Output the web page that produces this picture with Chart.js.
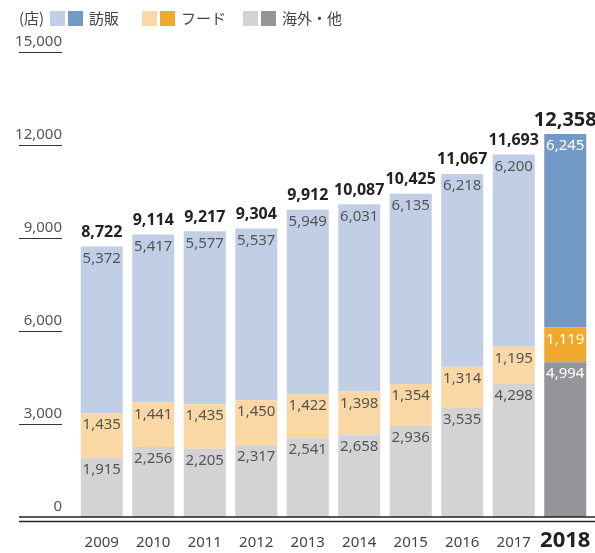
<!DOCTYPE html>
<html>
<head>
<meta charset="utf-8">
<script src="https://cdn.jsdelivr.net/npm/chart.js@4"></script>
<style>
  body { margin: 0; background: #fff; }
  #wrap { width: 595px; height: 553px; }
</style>
</head>
<body>
<div id="wrap"><canvas id="myChart" width="595" height="553"></canvas></div>
<script>
const years = ['2009', '2010', '2011', '2012', '2013', '2014', '2015', '2016', '2017', '2018'];
const houhan = [5372, 5417, 5577, 5537, 5949, 6031, 6135, 6218, 6200, 6245];
const food = [1435, 1441, 1435, 1450, 1422, 1398, 1354, 1314, 1195, 1119];
const overseas = [1915, 2256, 2205, 2317, 2541, 2658, 2936, 3535, 4298, 4994];
const totals = [8722, 9114, 9217, 9304, 9912, 10087, 10425, 11067, 11693, 12358];
const yTicks = [0, 3000, 6000, 9000, 12000, 15000];

const FONT = '"Noto Sans", "Noto Sans CJK JP", sans-serif';
const JP = '"Noto Sans CJK JP", "Noto Sans", sans-serif';
const last = years.length - 1;

function colors(light, dark) {
  return years.map((y, i) => i === last ? dark : light);
}
function fmt(v) { return v.toLocaleString('en-US'); }

const extras = {
  id: 'extras',
  afterDatasetsDraw(chart) {
    const c = chart.ctx;
    const y = chart.scales.y;
    const x = chart.scales.x;
    c.save();
    // segment labels
    c.textAlign = 'center';
    c.textBaseline = 'middle';
    c.font = '15px ' + FONT;
    chart.data.datasets.forEach((ds, di) => {
      chart.getDatasetMeta(di).data.forEach((bar, i) => {
        c.fillStyle = i === last ? '#fff' : '#555';
        c.fillText(fmt(ds.data[i]), bar.x, bar.y + 12);
      });
    });
    // totals
    const top = chart.getDatasetMeta(2).data;
    top.forEach((bar, i) => {
      c.fillStyle = '#222';
      c.font = (i === last ? 'bold 20px ' : 'bold 16px ') + FONT;
      c.fillText(fmt(totals[i]), bar.x, bar.y - 14);
    });
    // year labels
    c.textBaseline = 'alphabetic';
    years.forEach((yr, i) => {
      c.fillStyle = i === last ? '#222' : '#444';
      c.font = (i === last ? 'bold 22px ' : '15px ') + FONT;
      c.fillText(yr, x.getPixelForValue(i), 547);
    });
    // y tick underlines
    c.strokeStyle = '#333';
    c.lineWidth = 1;
    yTicks.forEach(t => {
      if (t === 0) return;
      const py = Math.round(y.getPixelForValue(t)) + 0.5;
      c.beginPath();
      c.moveTo(19, py);
      c.lineTo(62, py);
      c.stroke();
    });
    // double baseline
    const by = y.getPixelForValue(0);
    c.lineWidth = 1.5;
    c.strokeStyle = '#222';
    [by, by + 4.5].forEach(ly => {
      c.beginPath();
      c.moveTo(19, ly);
      c.lineTo(595, ly);
      c.stroke();
    });
    // legend
    c.textAlign = 'left';
    c.textBaseline = 'middle';
    c.font = '15px ' + JP;
    c.fillStyle = '#444';
    c.fillText('(店)', 19, 18);
    const items = [
      { x: 50, light: '#c0cfe6', dark: '#7399c6', text: '訪販' },
      { x: 142, light: '#f9d8a5', dark: '#f0a92d', text: 'フード' },
      { x: 243, light: '#d3d3d5', dark: '#939598', text: '海外・他' }
    ];
    items.forEach(it => {
      c.fillStyle = it.light;
      c.fillRect(it.x, 11, 15, 15);
      c.fillStyle = it.dark;
      c.fillRect(it.x + 18, 11, 15, 15);
      c.fillStyle = '#444';
      c.fillText(it.text, it.x + 39, 18);
    });
    c.restore();
  }
};

new Chart(document.getElementById('myChart'), {
  type: 'bar',
  data: {
    labels: years,
    datasets: [
      { label: '海外・他', data: overseas, backgroundColor: colors('#d3d3d5', '#939598') },
      { label: 'フード', data: food, backgroundColor: colors('#f9d8a5', '#f0a92d') },
      { label: '訪販', data: houhan, backgroundColor: colors('#c0cfe6', '#7399c6') }
    ]
  },
  options: {
    responsive: false,
    animation: false,
    layout: { padding: { top: 52, right: 4, left: 0, bottom: 0 } },
    datasets: { bar: { categoryPercentage: 1, barPercentage: 0.816 } },
    plugins: { legend: { display: false }, tooltip: { enabled: false } },
    scales: {
      x: {
        stacked: true,
        grid: { display: false, drawTicks: false },
        border: { display: false },
        ticks: { display: false },
        afterFit(s) { s.height = 36; }
      },
      y: {
        stacked: true,
        min: 0,
        max: 15000,
        afterBuildTicks(s) { s.ticks = yTicks.map(v => ({ value: v })); },
        grid: { display: false, drawTicks: false },
        border: { display: false },
        ticks: {
          padding: 14,
          labelOffset: -10,
          color: '#555',
          font: { size: 15, family: FONT },
          callback: v => fmt(v)
        },
        afterFit(s) { s.width = 76; }
      }
    }
  },
  plugins: [extras]
});
</script>
</body>
</html>
